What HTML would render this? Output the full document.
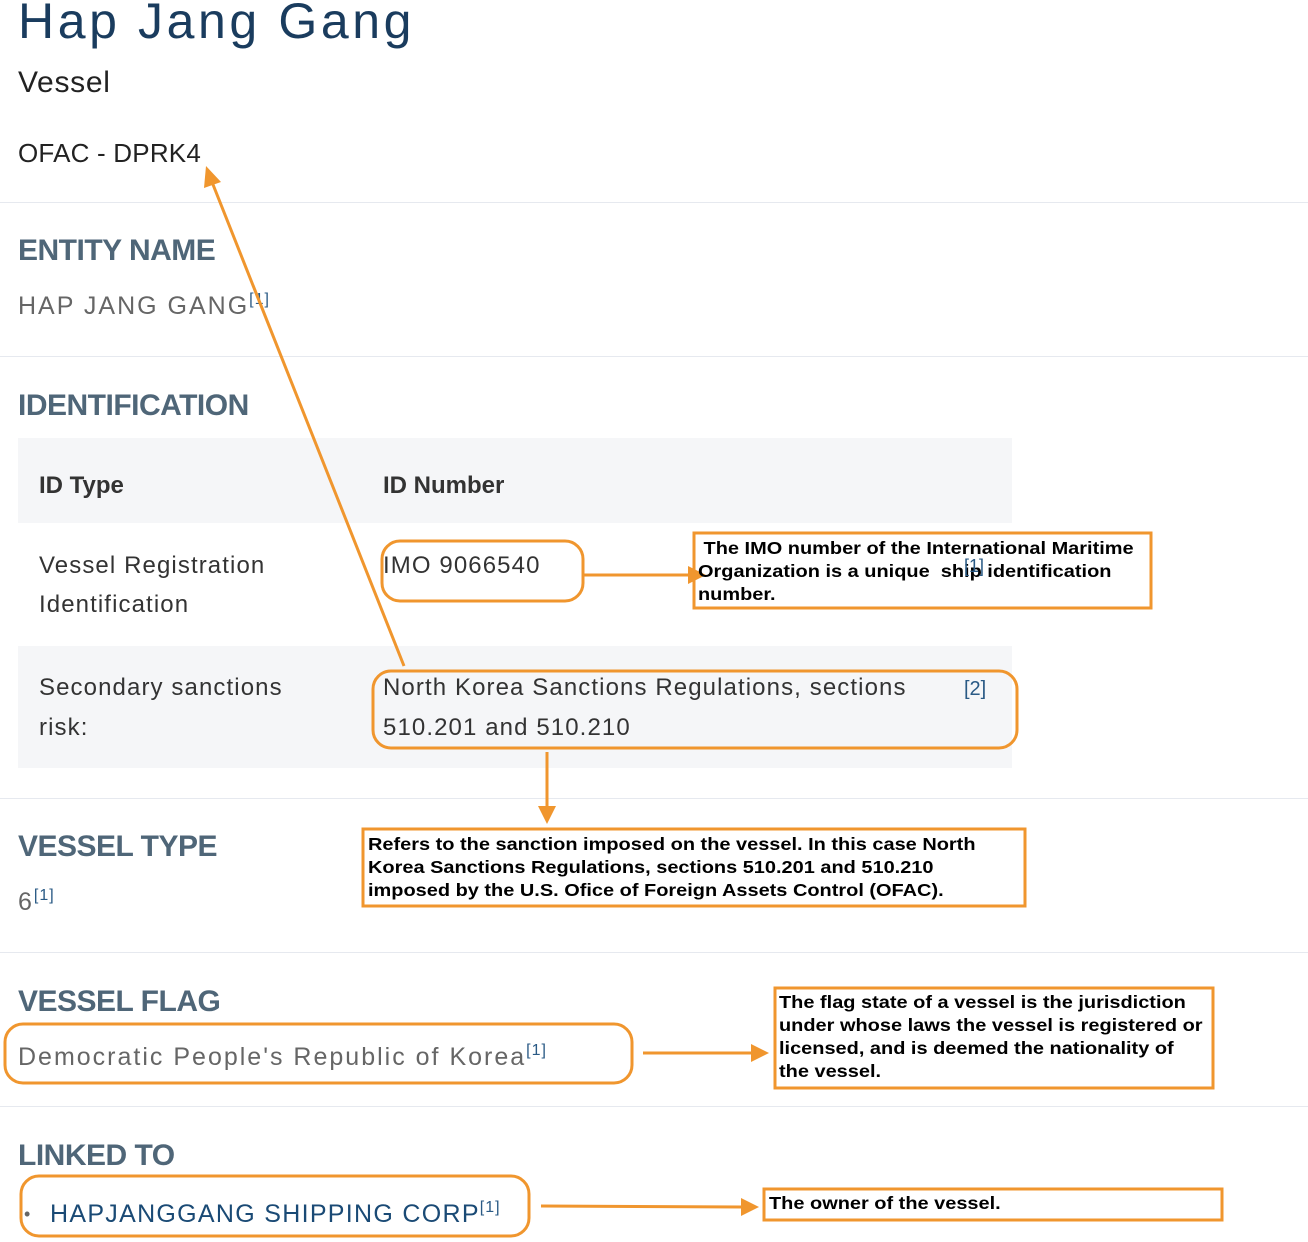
<!DOCTYPE html>
<html><head><meta charset="utf-8"><style>
body{margin:0;width:1308px;height:1242px;background:#fff;position:relative;overflow:hidden;font-family:"Liberation Sans",sans-serif;}
.t{position:absolute;white-space:nowrap;line-height:1;}
.h{font-weight:bold;color:#4f6678;font-size:30px;letter-spacing:-0.5px;}
.hr{position:absolute;left:0;width:1308px;height:1px;background:#e6e9ef;}
.g{color:#666;font-size:25px;letter-spacing:2px;}
.b{font-size:24px;color:#333;letter-spacing:1.1px;}
sup{font-size:16px;color:#2a5a85;vertical-align:10px;letter-spacing:1px;}
.c{position:absolute;font-weight:bold;font-size:17.5px;line-height:23px;color:#000;transform:scaleX(1.14);transform-origin:left;white-space:nowrap;}
</style></head><body>
<div class="t" style="left:18px;top:-4px;font-size:50px;color:#1a3c5e;letter-spacing:3.6px;">Hap Jang Gang</div>
<div class="t" style="left:18px;top:68px;font-size:30px;color:#222;letter-spacing:0.7px;">Vessel</div>
<div class="t" style="left:18px;top:140px;font-size:26px;color:#222;letter-spacing:0.2px;">OFAC - DPRK4</div>
<div class="hr" style="top:202px"></div>
<div class="t h" style="left:18px;top:236px;">ENTITY NAME</div>
<div class="t g" style="left:18px;top:292px;">HAP JANG GANG<sup>[1]</sup></div>
<div class="hr" style="top:356px"></div>
<div class="t h" style="left:18px;top:391px;">IDENTIFICATION</div>
<div style="position:absolute;left:18px;top:438px;width:994px;height:85px;background:#f5f6f8"></div>
<div style="position:absolute;left:18px;top:646px;width:994px;height:122px;background:#f5f6f8"></div>
<div class="t" style="left:39px;top:474px;font-size:24px;font-weight:bold;color:#333;">ID Type</div>
<div class="t" style="left:383px;top:474px;font-size:24px;font-weight:bold;color:#333;">ID Number</div>
<div class="t b" style="left:39px;top:554px;">Vessel Registration</div>
<div class="t b" style="left:39px;top:593px;">Identification</div>
<div class="t b" style="left:383px;top:554px;">IMO 9066540</div>
<div class="t b" style="left:39px;top:676px;">Secondary sanctions</div>
<div class="t b" style="left:39px;top:716px;">risk:</div>
<div class="t b" style="left:383px;top:676px;">North Korea Sanctions Regulations, sections</div>
<div class="t b" style="left:383px;top:716px;">510.201 and 510.210</div>
<div class="t" style="left:964px;top:679px;font-size:20px;color:#2a5a85;">[2]</div>
<div class="hr" style="top:798px"></div>
<div class="t h" style="left:18px;top:832px;">VESSEL TYPE</div>
<div class="t g" style="left:18px;top:888px;">6<sup>[1]</sup></div>
<div class="hr" style="top:952px"></div>
<div class="t h" style="left:18px;top:987px;">VESSEL FLAG</div>
<div class="t g" style="left:18px;top:1043px;">Democratic People's Republic of Korea<sup>[1]</sup></div>
<div class="hr" style="top:1106px"></div>
<div class="t h" style="left:18px;top:1141px;">LINKED TO</div>
<div class="t" style="left:24px;top:1205px;font-size:18px;color:#666;">•</div>
<div class="t" style="left:50px;top:1200px;font-size:25px;color:#1a4a75;letter-spacing:1.3px;">HAPJANGGANG SHIPPING CORP<sup>[1]</sup></div>

<svg width="1308" height="1242" style="position:absolute;left:0;top:0" fill="none" stroke="#f0962e" stroke-width="3">
<rect x="382" y="541" width="201" height="60" rx="18"/>
<rect x="694" y="533" width="457" height="75"/>
<rect x="373" y="671" width="644" height="77" rx="18"/>
<rect x="363" y="829" width="662" height="77"/>
<rect x="5" y="1024" width="627" height="59" rx="18"/>
<rect x="775" y="988" width="438" height="100"/>
<rect x="21" y="1176" width="508" height="60" rx="18"/>
<rect x="764" y="1189" width="458" height="31"/>
<line x1="583" y1="575" x2="690" y2="575"/>
<polygon points="706,575 688,566 688,584" fill="#f0962e" stroke="none"/>
<line x1="547" y1="752" x2="547" y2="808"/>
<polygon points="547,824 538,806 556,806" fill="#f0962e" stroke="none"/>
<line x1="404" y1="666" x2="212" y2="182"/>
<polygon points="206,166 204,188 221,182" fill="#f0962e" stroke="none"/>
<line x1="643" y1="1053" x2="752" y2="1053"/>
<polygon points="769,1053 751,1044 751,1062" fill="#f0962e" stroke="none"/>
<line x1="541" y1="1206" x2="742" y2="1207"/>
<polygon points="759,1207 741,1198 741,1216" fill="#f0962e" stroke="none"/>
</svg>
<div class="c" style="left:698px;top:537px;">&nbsp;The IMO number of the International Maritime<br>Organization is a unique &nbsp;ship identification<br>number.</div>
<div class="t" style="left:964px;top:557px;font-size:18px;color:#2a5a85;">[1]</div>
<div class="c" style="left:368px;top:833px;">Refers to the sanction imposed on the vessel. In this case North<br>Korea Sanctions Regulations, sections 510.201 and 510.210<br>imposed by the U.S. Ofice of Foreign Assets Control (OFAC).</div>
<div class="c" style="left:779px;top:991px;">The flag state of a vessel is the jurisdiction<br>under whose laws the vessel is registered or<br>licensed, and is deemed the nationality of<br>the vessel.</div>
<div class="c" style="left:769px;top:1192px;">The owner of the vessel.</div>
</body></html>
